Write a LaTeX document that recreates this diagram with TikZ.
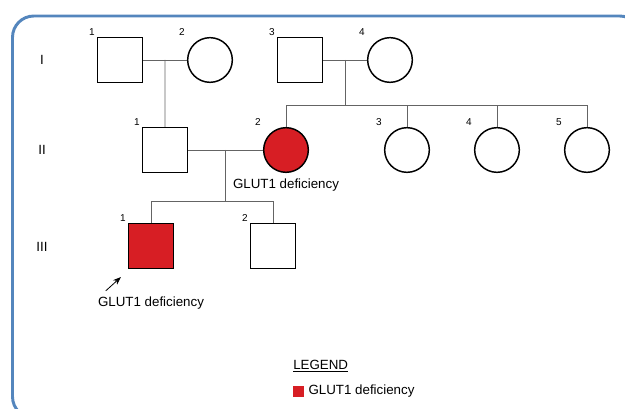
\documentclass[tikz,border=0pt]{standalone}
\usepackage{fontspec}
\setmainfont{Liberation Sans}
\usetikzlibrary{positioning,calc,arrows.meta}
\definecolor{affected}{RGB}{215,30,36}
\definecolor{frameblue}{RGB}{84,134,189}
\definecolor{linegray}{RGB}{100,100,100}

\begin{document}
\begin{tikzpicture}[x=0.75pt,y=-0.75pt,node distance=67.5pt,
    male/.style={rectangle,draw,line width=1.1pt,minimum size=33.5pt,inner sep=0pt},
    female/.style={circle,draw,line width=1.1pt,minimum size=33.5pt,inner sep=0pt},
    sick/.style={fill=affected},
    num/.style={font=\fontsize{7.5}{9}\selectfont,inner sep=0pt},
    gen/.style={font=\fontsize{10}{12}\selectfont,inner sep=0pt},
    note/.style={font=\fontsize{10}{12}\selectfont,inner sep=0pt},
    rel/.style={draw=linegray,line width=0.6pt}]

  \clip (0,0) rectangle (625,409);
  \draw[frameblue,line width=2.2pt,rounded corners=16pt] (12.5,16) rectangle (641,418);

  % generations
  \node[gen] (gI)   at (42,60)  {I};
  \node[gen] (gII)  at (42,150) {II};
  \node[gen] (gIII) at (42,247) {III};

  % generation I
  \node[male]   (I1) at (120,60)    {};
  \node[female] (I2) [right of=I1] {};
  \node[male]   (I3) [right of=I2] {};
  \node[female] (I4) [right of=I3] {};

  % generation II
  \node[male]        (II1) at (165,150)                       {};
  \node[female,sick] (II2) [right of=II1, node distance=90.75pt] {};
  \node[female]      (II3) [right of=II2, node distance=90.75pt] {};
  \node[female]      (II4) [right of=II3]                      {};
  \node[female]      (II5) [right of=II4]                      {};

  % generation III
  \node[male,sick] (III1) at (151,246)                       {};
  \node[male]      (III2) [right of=III1, node distance=91.5pt] {};

  \foreach \p/\t in {I1/1,I2/2,I3/3,I4/4,II1/1,II2/2,II3/3,II4/4,II5/5,III1/1,III2/2}
    \node[num] (n\p) at ([shift={(-28,-28)}]\p) {\t};

  % lines of descent
  \coordinate (m1) at ($(I1.east)!0.5!(I2.west)$);
  \coordinate (m2) at ($(I3.east)!0.5!(I4.west)$);
  \coordinate (m3) at ($(II1.east)!0.5!(II2.west)$);
  \coordinate (s2) at ($(m2)+(0,45)$);
  \coordinate (s3) at ($(m3)+(0,51)$);

  \path[rel] (I1) -- (I2) (I3) -- (I4) (II1) -- (II2);
  \path[rel] (m1) -- (II1.north);
  \path[rel] (m2) -- (s2);
  \foreach \c in {II2,II3,II4,II5}
    \path[rel] (\c.north) |- (s2);
  \path[rel] (m3) -- (s3);
  \foreach \c in {III1,III2}
    \path[rel] (\c.north) |- (s3);

  % notes
  \node[note] (d1) [below of=II2, node distance=26.5pt] {GLUT1 deficiency};
  \node[note] (d2) [below of=III1, node distance=43pt]  {GLUT1 deficiency};
  \coordinate (a1) at ([shift={(8,-6)}]d2.north west);
  \coordinate (a2) at ([shift={(-7,8)}]III1.south west);
  \draw[-{Stealth[length=6pt,width=4.5pt]},line width=0.6pt] (a1) -- (a2);

  % legend
  \node[note,anchor=west] (leg) at (293,366) {\underline{LEGEND}};
  \node[fill=affected,minimum size=8.25pt,inner sep=0pt] (key) at (298.5,391.5) {};
  \node[note,right=3pt of key] (keytxt) {GLUT1 deficiency};
\end{tikzpicture}
\end{document}
